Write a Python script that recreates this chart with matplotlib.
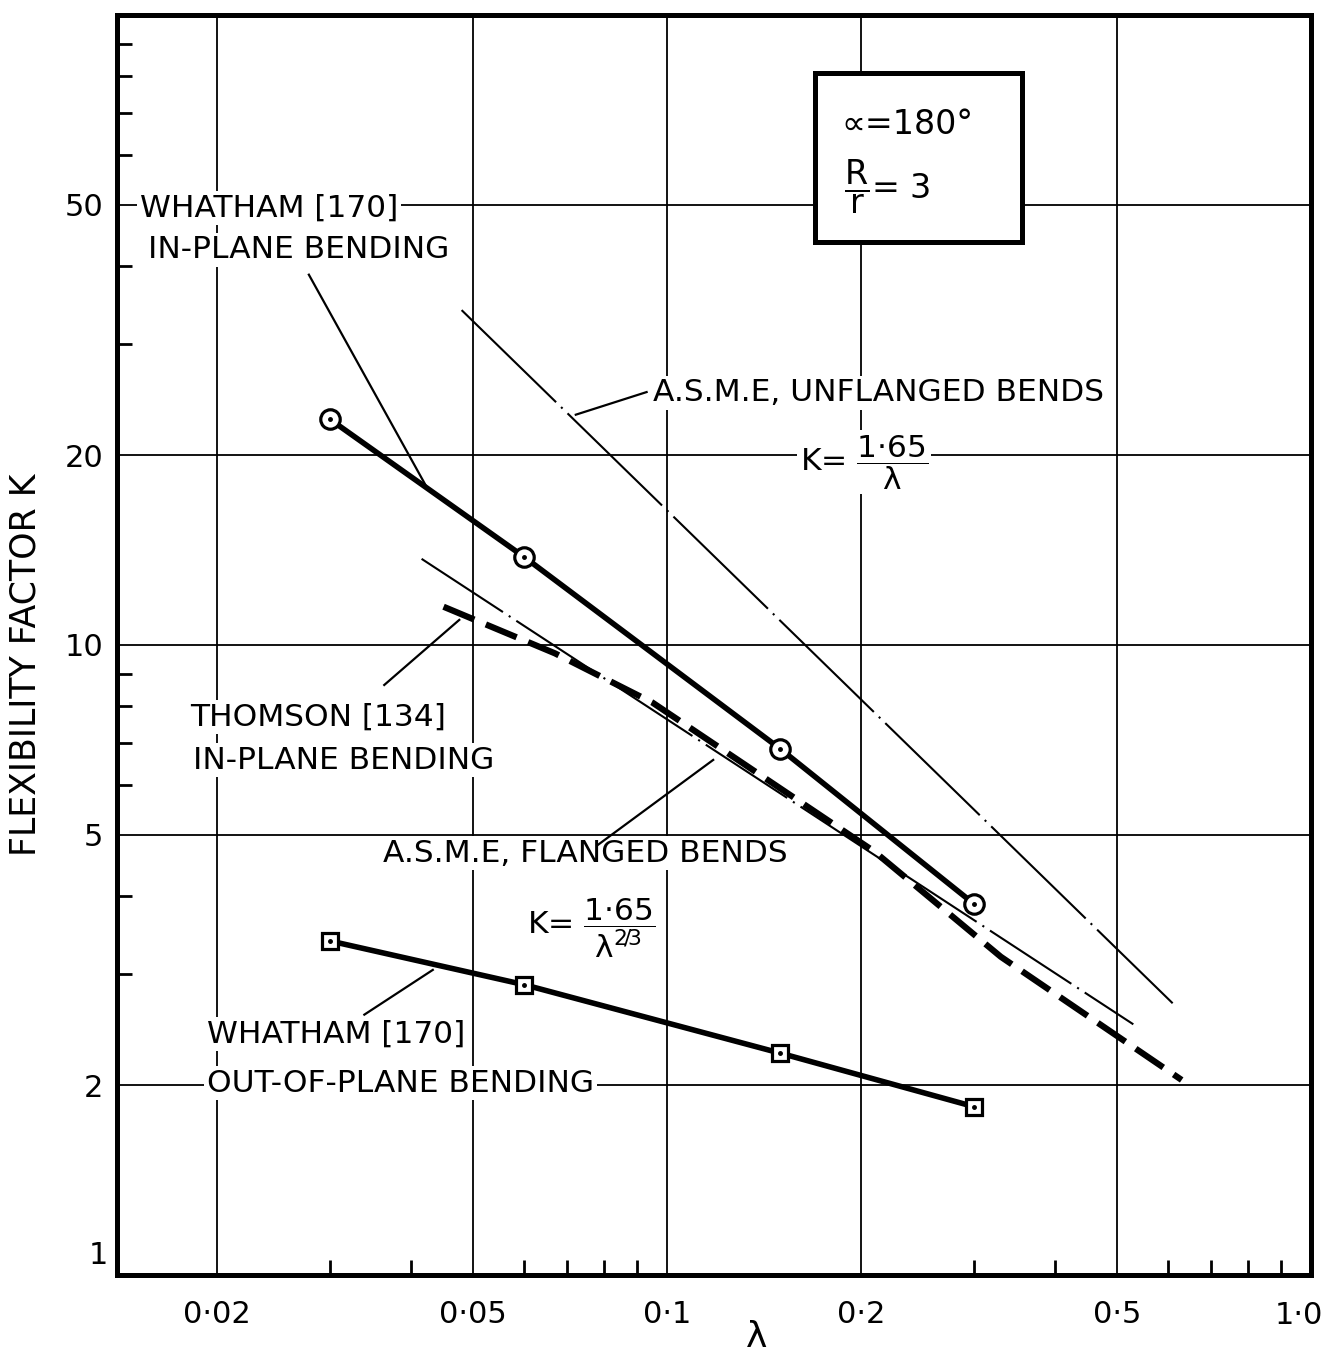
import matplotlib.pyplot as plt
import matplotlib.patches as mpatches
from matplotlib.ticker import FixedLocator, NullFormatter

plt.rcParams['font.family'] = ['DejaVu Sans']
plt.rcParams['mathtext.fontset'] = 'dejavusans'
plt.rcParams['mathtext.default'] = 'regular'
plt.rcParams['lines.scale_dashes'] = False

# Whatham [170], in-plane bending (circles)
lam_inplane = [0.03, 0.06, 0.15, 0.30]
K_inplane = [22.8, 13.8, 6.84, 3.88]

# Whatham [170], out-of-plane bending (squares)
lam_outplane = [0.03, 0.06, 0.15, 0.30]
K_outplane = [3.39, 2.89, 2.25, 1.85]

# Thomson [134], in-plane bending
lam_thomson = [0.045, 0.067, 0.095, 0.21, 0.33, 0.63]
K_thomson = [11.5, 9.7, 8.1, 4.7, 3.2, 2.04]

# A.S.M.E. code lines, K = 1.65/lam and K = 1.65/lam^(2/3)
lam_unflanged = [0.048, 0.61]
K_unflanged = [34.0, 2.70]
lam_flanged = [0.0416, 0.53]
K_flanged = [13.7, 2.50]

x_major = [0.02, 0.05, 0.1, 0.2, 0.5, 1.0]
x_labels = ['0·02', '0·05', '0·1', '0·2', '0·5', '1·0']
x_minor = [0.03, 0.04, 0.06, 0.07, 0.08, 0.09, 0.3, 0.4, 0.6, 0.7, 0.8, 0.9]
y_major = [1, 2, 5, 10, 20, 50]
y_labels = ['1', '2', '5', '10', '20', '50']
y_minor = [3, 4, 6, 7, 8, 9, 30, 40, 60, 70, 80, 90]

# leader lines from labels to curves: ((lam0, lam1), (K0, K1))
leaders = [
    ((0.0278, 0.0425), (38.7, 17.7)),
    ((0.0722, 0.093), (23.2, 25.2)),
    ((0.0364, 0.0476), (8.64, 10.96)),
    ((0.078, 0.118), (4.81, 6.57)),
    ((0.0339, 0.0433), (2.59, 3.05)),
]

fig = plt.figure(figsize=(13.31, 13.55), dpi=100)
ax = fig.add_axes([0.0879, 0.059, 0.897, 0.930])
ax.set_xscale('log')
ax.set_yscale('log')
ax.set_xlim(0.014, 1.0)
ax.set_ylim(1, 100)

for s in ax.spines.values():
    s.set_linewidth(3.6)

# the end labels (1 and 1.0) sit off the usual tick position, drawn below
ax.xaxis.set_major_locator(FixedLocator(x_major))
ax.xaxis.set_minor_locator(FixedLocator(x_minor))
ax.yaxis.set_major_locator(FixedLocator(y_major))
ax.yaxis.set_minor_locator(FixedLocator(y_minor))
ax.set_xticklabels(x_labels[:-1] + [''])
ax.set_yticklabels([''] + y_labels[1:])
ax.xaxis.set_minor_formatter(NullFormatter())
ax.yaxis.set_minor_formatter(NullFormatter())
ax.tick_params(which='major', length=0, labelsize=22)
ax.tick_params(axis='x', which='major', pad=18)
ax.tick_params(axis='y', which='major', pad=10)
ax.tick_params(which='minor', direction='in', length=11, width=2)

ax.annotate(x_labels[-1], xy=(x_major[-1], 0), xycoords=('data', 'axes fraction'),
            xytext=(-12, -40), textcoords='offset pixels',
            ha='center', va='center', fontsize=22)
ax.annotate(y_labels[0], xy=(0, y_major[0]), xycoords=('axes fraction', 'data'),
            xytext=(-19, 20), textcoords='offset pixels',
            ha='center', va='center', fontsize=22)

for v in x_major[:-1]:
    ax.axvline(v, color='black', lw=1.3, zorder=1)
for v in y_major[1:]:
    ax.axhline(v, color='black', lw=1.3, zorder=1)

ax.set_xlabel('λ', fontsize=26)
ax.xaxis.set_label_coords(0.536, -0.036)
ax.set_ylabel('FLEXIBILITY FACTOR K', fontsize=25)
ax.yaxis.set_label_coords(-0.062, 0.484)

# code lines
ax.plot(lam_unflanged, K_unflanged, color='black', lw=1.5,
        ls=(0, (95, 5, 1.5, 5)), zorder=3)
ax.plot(lam_flanged, K_flanged, color='black', lw=1.5,
        ls=(0, (70, 5, 1.5, 5)), zorder=3)

# Thomson
ax.plot(lam_thomson, K_thomson, color='black', lw=4.5,
        ls=(0, (24, 9)), zorder=3)

# Whatham
ax.plot(lam_inplane, K_inplane, color='black', lw=4.0, zorder=4)
ax.plot(lam_inplane, K_inplane, 'o', ms=14, mfc='white', mec='black',
        mew=2.3, zorder=5)
ax.plot(lam_outplane, K_outplane, color='black', lw=4.0, zorder=4)
ax.plot(lam_outplane, K_outplane, 's', ms=11.5, mfc='white', mec='black',
        mew=2.3, zorder=5)
ax.plot(lam_inplane + lam_outplane, K_inplane + K_outplane, 'o', ms=2.5,
        color='black', zorder=6)

for lx, ly in leaders:
    ax.plot(lx, ly, color='black', lw=1.6, zorder=3)

label_kw = dict(transform=ax.transAxes, va='center', ha='left', zorder=2,
                fontsize=22.5,
                bbox=dict(facecolor='white', edgecolor='none', pad=2))

ax.text(0.0193, 0.8468, 'WHATHAM [170]', **label_kw)
ax.text(0.026, 0.8135, 'IN-PLANE BENDING', **label_kw)
ax.text(0.4489, 0.700, 'A.S.M.E, UNFLANGED BENDS', **label_kw)
ax.text(0.572, 0.645, r'K= $\dfrac{1{\cdot}65}{\lambda}$', **label_kw)
ax.text(0.0611, 0.4429, 'THOMSON [134]', **label_kw)
ax.text(0.0637, 0.4087, 'IN-PLANE BENDING', **label_kw)
ax.text(0.2228, 0.3349, 'A.S.M.E, FLANGED BENDS', **label_kw)
ax.text(0.3434, 0.2754, r'K= $\dfrac{1{\cdot}65}{\lambda^{2\!/\!3}}$',
        **label_kw)
ax.text(0.0754, 0.1913, 'WHATHAM [170]', **label_kw)
ax.text(0.0754, 0.1524, 'OUT-OF-PLANE BENDING', **label_kw)

# parameter box
box = mpatches.Rectangle((0.5846, 0.8198), 0.1734, 0.1342,
                         transform=ax.transAxes, facecolor='white',
                         edgecolor='black', lw=3.6, zorder=6)
ax.add_patch(box)
ax.text(0.662, 0.9127, '∝=180°', transform=ax.transAxes, fontsize=24,
        ha='center', va='center', zorder=7)
ax.text(0.645, 0.8635, r'$\dfrac{R}{r}$= 3',
        transform=ax.transAxes, fontsize=24, ha='center', va='center',
        zorder=7)

fig.savefig('out.png', dpi=100)
